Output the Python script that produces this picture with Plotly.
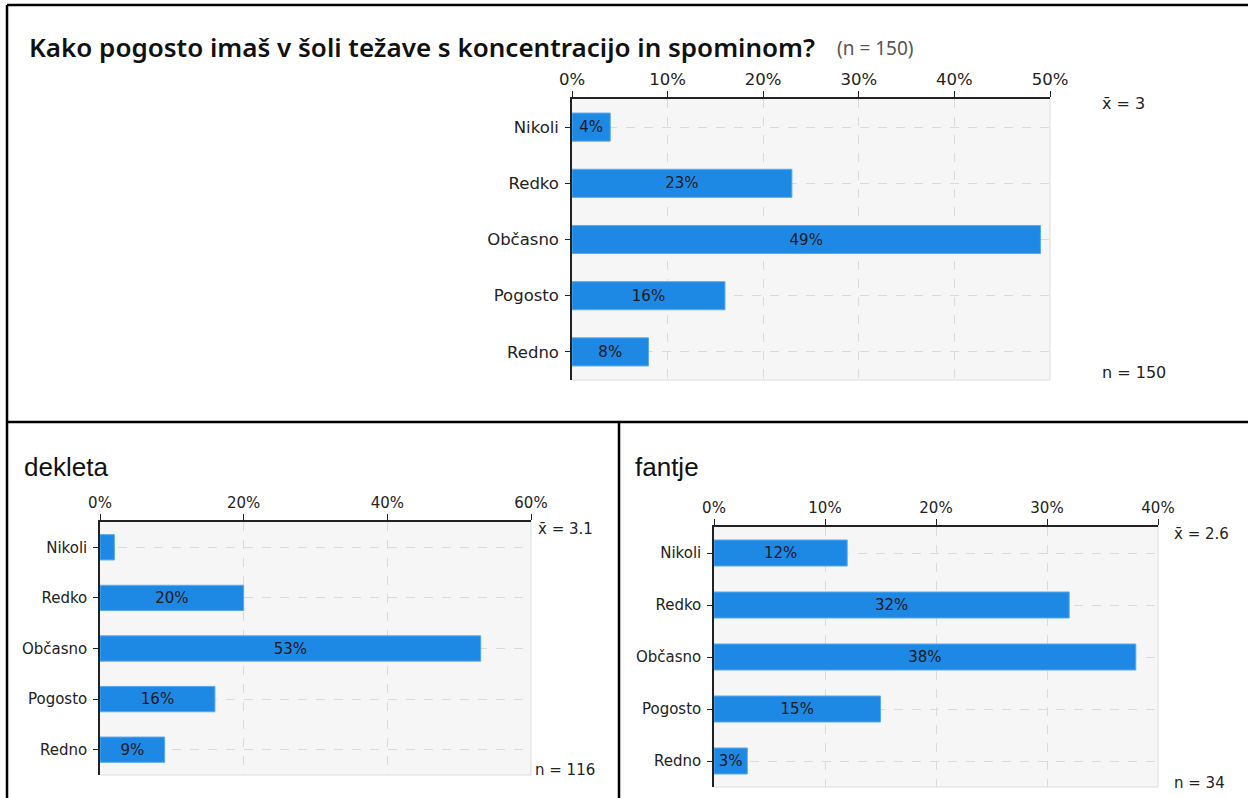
import plotly.graph_objects as go

# Survey answers (shares in %)
categories = ["Nikoli", "Redko", "Občasno", "Pogosto", "Redno"]
total_pct = [4, 23, 49, 16, 8]
girls_pct = [2, 20, 53, 16, 9]
boys_pct = [12, 32, 38, 15, 3]

title_text = "Kako pogosto imaš v šoli težave s koncentracijo in spominom?"
n_total, n_girls, n_boys = 150, 116, 34
mean_total, mean_girls, mean_boys = "3", "3.1", "2.6"

W, H = 1248, 798
BAR = "#1e88e5"
TICK_FONT = "DejaVu Sans"


def px(x):
    return x / W


def py(y):
    return 1 - y / H


fig = go.Figure()

panels = [
    # (values, axis suffix, x range, dtick, x domain px, y domain px, font size)
    (total_pct, "", 50, 10, (572, 1050), (99, 380), 16.5),
    (girls_pct, "2", 60, 20, (100, 531), (522, 775), 15),
    (boys_pct, "3", 40, 10, (714, 1158), (527, 787), 15),
]

for vals, sfx, xmax, dt, (x0, x1), (y0, y1), fs in panels:
    fig.add_trace(go.Bar(
        x=vals, y=categories, orientation="h",
        xaxis="x" + sfx, yaxis="y" + sfx,
        marker=dict(color=BAR, line=dict(color="#5aa9ee", width=1)),
        width=0.5,
        text=[f"{v}%" for v in vals],
        textposition="inside", insidetextanchor="middle", textangle=0,
        textfont=dict(family=TICK_FONT, size=fs, color="#1a1a1a"),
        hoverinfo="skip", showlegend=False,
    ))
    fig.layout["xaxis" + sfx] = dict(
        domain=[px(x0), px(x1)], anchor="y" + sfx, side="top",
        range=[0, xmax], dtick=dt, ticksuffix="%",
        showline=True, linecolor="#222", linewidth=1.5,
        ticks="outside", ticklen=6, tickcolor="#222",
        showgrid=True, gridcolor="#dadada", griddash="dash", zeroline=False,
        tickfont=dict(family=TICK_FONT, size=fs, color="#222"),
        automargin=False, fixedrange=True,
    )
    fig.layout["yaxis" + sfx] = dict(
        domain=[py(y1), py(y0)], anchor="x" + sfx,
        categoryorder="array", categoryarray=categories,
        autorange="reversed",
        showline=True, linecolor="#222", linewidth=1.5,
        ticks="outside", ticklen=5, tickcolor="#222",
        showgrid=True, gridcolor="#dadada", griddash="dash",
        tickfont=dict(family=TICK_FONT, size=fs, color="#222"),
        ticklabelstandoff=3,
        automargin=False, fixedrange=True,
    )
    xr = "x" + sfx + " domain"
    yr = "y" + sfx + " domain"
    # light right/bottom frame of the plotting area
    fig.add_shape(type="line", xref=xr, yref=yr, x0=1, x1=1, y0=0, y1=1,
                  line=dict(color="#dddddd", width=1), layer="below")
    fig.add_shape(type="line", xref=xr, yref=yr, x0=0, x1=1, y0=0, y1=0,
                  line=dict(color="#dddddd", width=1), layer="below")

# mean and sample size notes
notes = [
    (f"x\u0304 = {mean_total}", 1100, 103, 16),
    (f"n = {n_total}", 1100, 372, 16),
    (f"x\u0304 = {mean_girls}", 536, 529, 15),
    (f"n = {n_girls}", 533, 770, 15),
    (f"x\u0304 = {mean_boys}", 1172, 534, 15),
    (f"n = {n_boys}", 1172, 783, 15),
]
for txt, x, y, fs in notes:
    fig.add_annotation(text=txt, xref="paper", yref="paper", x=px(x), y=py(y),
                       xanchor="left", yanchor="middle", showarrow=False,
                       font=dict(family=TICK_FONT, size=fs, color="#222"))

# titles
fig.add_annotation(text=title_text, xref="paper", yref="paper",
                   x=px(27), y=py(47), xanchor="left", yanchor="middle",
                   showarrow=False,
                   font=dict(family="Noto Sans", size=26, color="#111", weight=600))
fig.add_annotation(text=f"(n = {n_total})", xref="paper", yref="paper",
                   x=px(835), y=py(48), xanchor="left", yanchor="middle",
                   showarrow=False,
                   font=dict(family="Noto Sans", size=19, color="#555"))
fig.add_annotation(text="dekleta", xref="paper", yref="paper",
                   x=px(22), y=py(467), xanchor="left", yanchor="middle",
                   showarrow=False,
                   font=dict(family="Liberation Sans", size=26, color="#111"))
fig.add_annotation(text="fantje", xref="paper", yref="paper",
                   x=px(633), y=py(467), xanchor="left", yanchor="middle",
                   showarrow=False,
                   font=dict(family="Liberation Sans", size=26, color="#111"))

# panel borders
border = dict(color="#000", width=2.5)
for (xa, ya, xb, yb) in [(7, 5, W, 5), (7, 5, 7, H), (7, 422, W, 422), (619, 422, 619, H)]:
    fig.add_shape(type="line", xref="paper", yref="paper",
                  x0=px(xa), y0=py(ya), x1=px(xb), y1=py(yb), line=border)

fig.update_layout(
    width=W, height=H, margin=dict(l=0, r=0, t=0, b=0, autoexpand=False),
    paper_bgcolor="white", plot_bgcolor="#f6f6f6",
    uniformtext=dict(minsize=12, mode="hide"),
    bargap=0.5,
)

fig.write_html("out.html", config={"responsive": False, "displayModeBar": False})
